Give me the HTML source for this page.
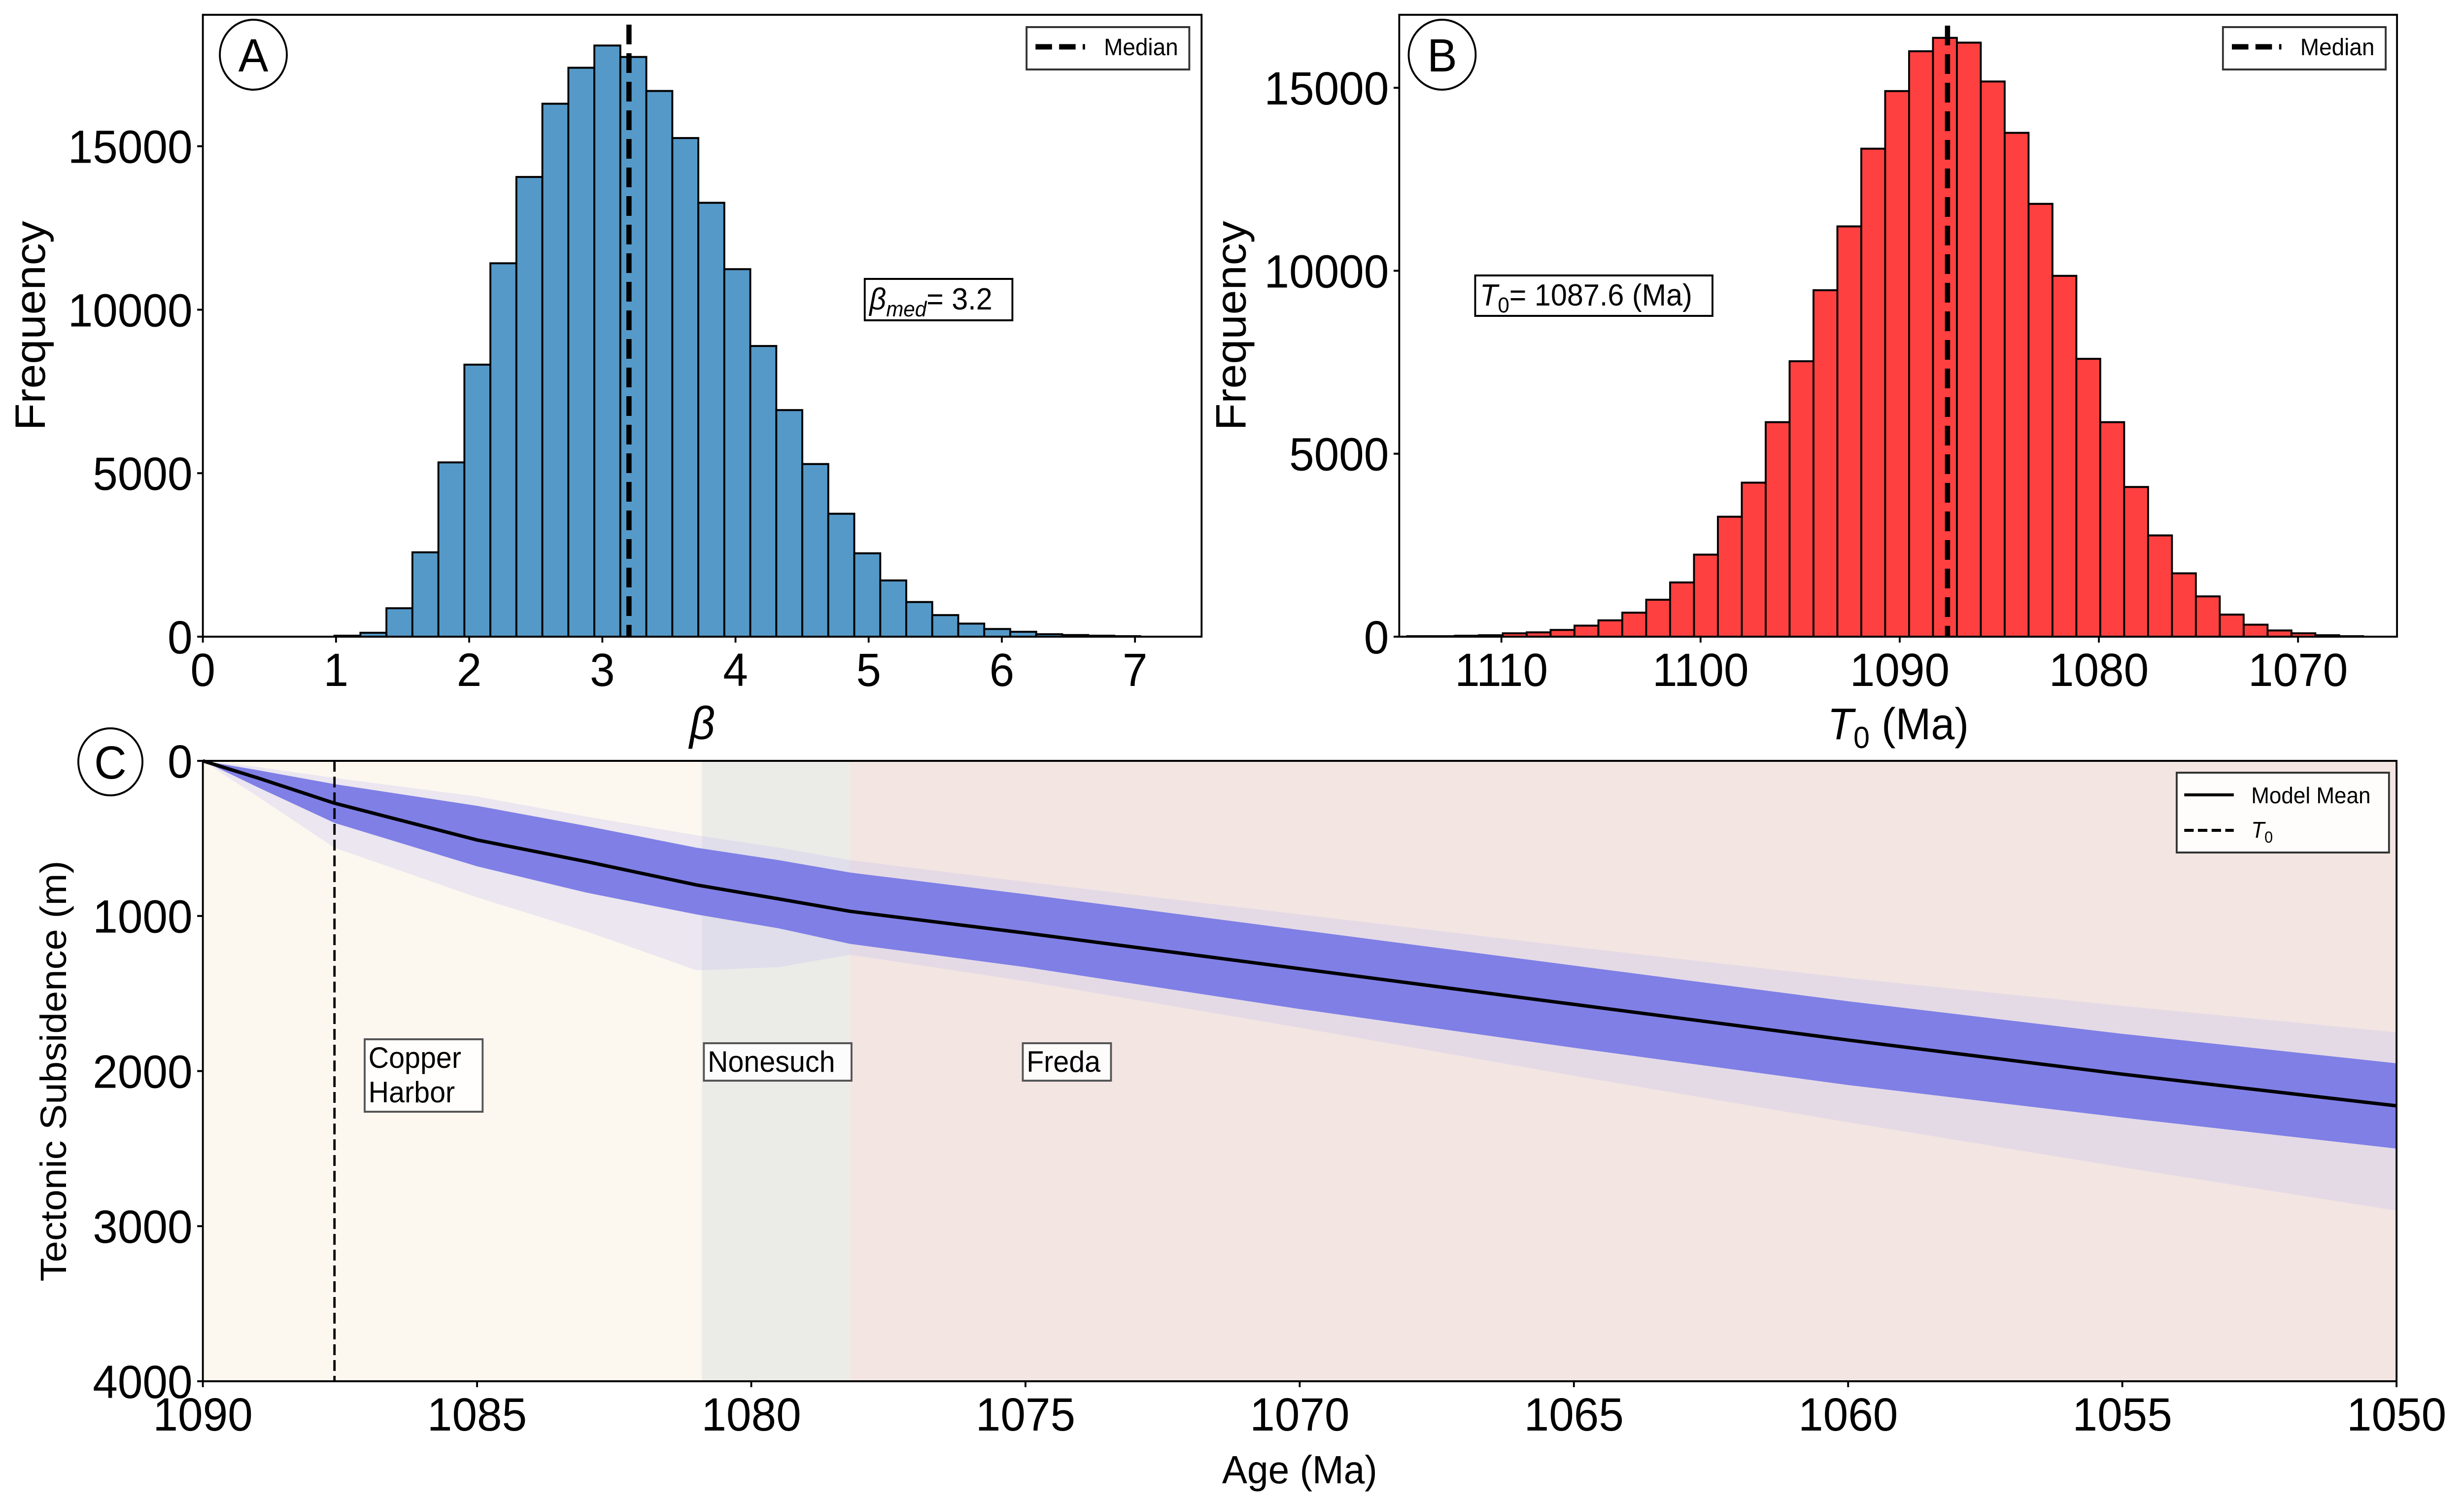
<!DOCTYPE html>
<html><head><meta charset="utf-8"><style>
html,body{margin:0;padding:0;background:#fff;overflow:hidden;width:100%;height:100%;}
svg{display:block;font-family:"Liberation Sans",sans-serif;width:100vw;height:100vh;}
</style></head><body>
<svg id="fig" xmlns="http://www.w3.org/2000/svg" viewBox="0 0 5223 3048" preserveAspectRatio="none"></svg>
<script>
// ---- Panel A data ----
const betaStart = 0.988;
const betaWidth = 0.1952;
const betaCounts = [30,120,870,2580,5330,8320,11420,14060,16300,17400,18080,17730,16690,15250,13270,11240,8890,6930,5280,3760,2550,1720,1060,660,400,235,150,75,50,30,15];
const betaTicks = [0,1,2,3,4,5,6,7];
const betaMedian = 3.2;
const freqTicksA = [0,5000,10000,15000];
// ---- Panel B data ----
const t0Start = 1114.73;
const t0Width = 1.2;
const t0Counts = [13,13,26,39,92,118,184,302,446,656,1010,1482,2242,3278,4209,5862,7527,9468,11212,13336,14910,15998,16365,16234,15172,13769,11828,9861,7593,5862,4091,2767,1731,1101,603,328,170,92,39,13];
const t0Ticks = [1110,1100,1090,1080,1070];
const t0Median = 1087.6;
const freqTicksB = [0,5000,10000,15000];
// ---- Panel C data ----
const ageTicks = [1090,1085,1080,1075,1070,1065,1060,1055,1050];
const depthTicks = [0,1000,2000,3000,4000];
const bandAges = [1090,1089,1087.6,1085,1083,1081,1079.5,1078.2,1075,1070,1065,1060,1055,1050];
const meanDepth = [0,110,273,510,650,800,890,970,1110,1340,1570,1800,2020,2224];
const denseUpper = [0,60,150,290,420,560,640,720,860,1090,1320,1550,1760,1950];
const denseLower = [0,170,400,680,850,990,1080,1180,1330,1600,1850,2090,2300,2500];
const faintUpper = [0,40,110,230,360,480,560,640,780,990,1200,1400,1580,1750];
const faintLower = [0,230,560,880,1100,1350,1330,1250,1420,1720,2030,2330,2620,2900];
const unitNames = ["Copper Harbor","Nonesuch","Freda"];
const unitBounds = [1090,1080.9,1078.2,1050];
const unitColors = ["#fcf7ef","#ebebe8","#f3e5e2"];
const t0Age = 1087.6;

const NS="http://www.w3.org/2000/svg";
const svg=document.getElementById('fig');
function mk(tag,attrs,parent){const e=document.createElementNS(NS,tag);for(const k in attrs)e.setAttribute(k,attrs[k]);(parent||svg).appendChild(e);return e;}
function txt(s,attrs,parent){const e=mk('text',attrs,parent);e.textContent=s;return e;}

// ===== Panel A =====
const A={l:430,r:2547,t:30,b:1292,x0:0,x1:7.5,y0:0,y1:19020};
const ax=v=>A.l+(v-A.x0)/(A.x1-A.x0)*(A.r-A.l);
const ay=v=>A.b-(v-A.y0)/(A.y1-A.y0)*(A.b-A.t);
const gA=mk('g',{});


betaCounts.forEach((c,i)=>{
  const x0=ax(betaStart+i*betaWidth),x1=ax(betaStart+(i+1)*betaWidth);
  const r=mk('rect',{x:x0,y:ay(c),width:x1-x0,height:ay(0)-ay(c),fill:'#5599c8',stroke:'#000','stroke-width':4},gA);
  
  
});
const mA=mk('line',{x1:ax(betaMedian),x2:ax(betaMedian),y1:A.t+20,y2:A.b,stroke:'#000','stroke-width':11,'stroke-dasharray':'40 18'},gA);


mk('rect',{x:A.l,y:A.t,width:A.r-A.l,height:A.b-A.t,fill:'none',stroke:'#000','stroke-width':4},gA);
betaTicks.forEach(v=>{
  mk('line',{x1:ax(v),x2:ax(v),y1:A.b,y2:A.b+12,stroke:'#000','stroke-width':4},gA);
  const t=txt(String(v),{x:ax(v),y:A.b+100,'font-size':95,'text-anchor':'middle'},gA);
  
  
});
freqTicksA.forEach(v=>{
  mk('line',{x1:A.l-12,x2:A.l,y1:ay(v),y2:ay(v),stroke:'#000','stroke-width':4},gA);
  const t=txt(String(v),{x:A.l-22,y:ay(v)+34,'font-size':95,'text-anchor':'end'},gA);
  
  
});
const xlA=txt('β',{x:(A.l+A.r)/2,y:1500,'font-size':95,'text-anchor':'middle','font-style':'italic'},gA);


const ylA=txt('Frequency',{x:0,y:0,'font-size':90,'text-anchor':'middle',transform:`translate(95,${(A.t+A.b)/2}) rotate(-90)`},gA);


mk('circle',{cx:537,cy:111,r:71,fill:'#fff',stroke:'#000','stroke-width':4},gA);
const la=txt('A',{x:537,y:145,'font-size':95,'text-anchor':'middle'},gA);


const lgA=mk('g',{},gA);


mk('rect',{x:2176,y:55,width:345,height:86,fill:'#fff',stroke:'#333','stroke-width':4},lgA);
mk('line',{x1:2195,x2:2300,y1:95,y2:95,stroke:'#000','stroke-width':11,'stroke-dasharray':'35 15'},lgA);
txt('Median',{x:2340,y:112,'font-size':48},lgA);
const anA=mk('g',{},gA);


mk('rect',{x:1833,y:566,width:313,height:84,fill:'#fff',stroke:'#000','stroke-width':4},anA);
const tA=txt('',{x:1843,y:628,'font-size':62},anA);
const s1=mk('tspan',{'font-style':'italic'},tA);s1.textContent='β';
const s2=mk('tspan',{'font-style':'italic','font-size':44,dy:14},tA);s2.textContent='med';
const s3=mk('tspan',{dy:-14},tA);s3.textContent='= 3.2';

// ===== Panel B =====
const B={l:2966,r:5081,t:30,b:1292,x0:1115.13,x1:1065.03,y0:0,y1:16995};
const bx=v=>B.l+(v-B.x0)/(B.x1-B.x0)*(B.r-B.l);
const by=v=>B.b-(v-B.y0)/(B.y1-B.y0)*(B.b-B.t);
const gB=mk('g',{});


t0Counts.forEach((c,i)=>{
  const x0=bx(t0Start-i*t0Width),x1=bx(t0Start-(i+1)*t0Width);
  const r=mk('rect',{x:x0,y:by(c),width:x1-x0,height:by(0)-by(c),fill:'#fe4040',stroke:'#000','stroke-width':4},gB);
  
  
});
const mB=mk('line',{x1:bx(t0Median),x2:bx(t0Median),y1:B.t+22,y2:B.b,stroke:'#000','stroke-width':11,'stroke-dasharray':'40 18'},gB);


mk('rect',{x:B.l,y:B.t,width:B.r-B.l,height:B.b-B.t,fill:'none',stroke:'#000','stroke-width':4},gB);
t0Ticks.forEach(v=>{
  mk('line',{x1:bx(v),x2:bx(v),y1:B.b,y2:B.b+12,stroke:'#000','stroke-width':4},gB);
  const t=txt(String(v),{x:bx(v),y:B.b+100,'font-size':95,'text-anchor':'middle'},gB);
  
  
});
freqTicksB.forEach(v=>{
  mk('line',{x1:B.l-12,x2:B.l,y1:by(v),y2:by(v),stroke:'#000','stroke-width':4},gB);
  const t=txt(String(v),{x:B.l-22,y:by(v)+34,'font-size':95,'text-anchor':'end'},gB);
  
  
});
const xlB=txt('',{x:(B.l+B.r)/2,y:1500,'font-size':90,'text-anchor':'middle'},gB);


{const a=mk('tspan',{'font-style':'italic'},xlB);a.textContent='T';const b=mk('tspan',{'font-size':62,dy:18},xlB);b.textContent='0';const c=mk('tspan',{dy:-18},xlB);c.textContent=' (Ma)';}
const ylB=txt('Frequency',{x:0,y:0,'font-size':90,'text-anchor':'middle',transform:`translate(2640,${(B.t+B.b)/2}) rotate(-90)`},gB);


mk('circle',{cx:3057,cy:111,r:71,fill:'#fff',stroke:'#000','stroke-width':4},gB);
const lb=txt('B',{x:3057,y:145,'font-size':95,'text-anchor':'middle'},gB);


const lgB=mk('g',{},gB);


mk('rect',{x:4712,y:55,width:345,height:86,fill:'#fff',stroke:'#333','stroke-width':4},lgB);
mk('line',{x1:4731,x2:4836,y1:95,y2:95,stroke:'#000','stroke-width':11,'stroke-dasharray':'35 15'},lgB);
txt('Median',{x:4876,y:112,'font-size':48},lgB);
const anB=mk('g',{},gB);


mk('rect',{x:3127,y:559,width:503,height:82,fill:'#fff',stroke:'#000','stroke-width':4},anB);
const tB=txt('',{x:3137,y:620,'font-size':62},anB);
{const a=mk('tspan',{'font-style':'italic'},tB);a.textContent='T';const b=mk('tspan',{'font-size':44,dy:14},tB);b.textContent='0';const c=mk('tspan',{dy:-14},tB);c.textContent='= 1087.6 (Ma)';}

// ===== Panel C =====
const C={l:430,r:5080,t:1544,b:2803,x0:1090,x1:1050,y0:0,y1:4000};
const cx=v=>C.l+(v-C.x0)/(C.x1-C.x0)*(C.r-C.l);
const cy=v=>C.t+(v-C.y0)/(C.y1-C.y0)*(C.b-C.t);
const gC=mk('g',{});


unitColors.forEach((col,i)=>{
  const r=mk('rect',{x:cx(unitBounds[i]),y:C.t,width:cx(unitBounds[i+1])-cx(unitBounds[i]),height:C.b-C.t,fill:col},gC);
  
  
});
function bandPath(up,lo){
  let d='';
  bandAges.forEach((a,i)=>{d+=(i?'L':'M')+cx(a)+','+cy(up[i]);});
  for(let i=bandAges.length-1;i>=0;i--)d+='L'+cx(bandAges[i])+','+cy(lo[i]);
  return d+'Z';
}
const fb=mk('path',{d:bandPath(faintUpper,faintLower),fill:'#c4c0f0','fill-opacity':0.3},gC);


const db=mk('path',{d:bandPath(denseUpper,denseLower),fill:'#7f7fe6'},gC);


const ml=mk('polyline',{points:bandAges.map((a,i)=>cx(a)+','+cy(meanDepth[i])).join(' '),fill:'none',stroke:'#000','stroke-width':7},gC);


const tl=mk('line',{x1:cx(t0Age),x2:cx(t0Age),y1:C.t,y2:C.b,stroke:'#000','stroke-width':5,'stroke-dasharray':'22 10'},gC);


mk('rect',{x:C.l,y:C.t,width:C.r-C.l,height:C.b-C.t,fill:'none',stroke:'#000','stroke-width':4},gC);
ageTicks.forEach(v=>{
  mk('line',{x1:cx(v),x2:cx(v),y1:C.b,y2:C.b+12,stroke:'#000','stroke-width':4},gC);
  const t=txt(String(v),{x:cx(v),y:C.b+100,'font-size':95,'text-anchor':'middle'},gC);
  
  
});
depthTicks.forEach(v=>{
  mk('line',{x1:C.l-12,x2:C.l,y1:cy(v),y2:cy(v),stroke:'#000','stroke-width':4},gC);
  const t=txt(String(v),{x:C.l-22,y:cy(v)+34,'font-size':95,'text-anchor':'end'},gC);
  
  
});
const xlC=txt('Age (Ma)',{x:(C.l+C.r)/2,y:3010,'font-size':80,'text-anchor':'middle'},gC);


const ylC=txt('Tectonic Subsidence (m)',{x:0,y:0,'font-size':78,'text-anchor':'middle',transform:`translate(140,${(C.t+C.b)/2}) rotate(-90)`},gC);


mk('circle',{cx:234,cy:1546,r:68,fill:'#fff',stroke:'#000','stroke-width':4},gC);
const lc=txt('C',{x:234,y:1580,'font-size':95,'text-anchor':'middle'},gC);


const ul=[[773,2109,250,147,['Copper','Harbor']],[1492,2117,313,76,['Nonesuch']],[2168,2117,187,76,['Freda']]];
ul.forEach((u,i)=>{
  const g=mk('g',{},gC);
  
  
  mk('rect',{x:u[0],y:u[1],width:u[2],height:u[3],fill:'#fff','fill-opacity':0.85,stroke:'#555','stroke-width':4},g);
  u[4].forEach((s,j)=>txt(s,{x:u[0]+8,y:u[1]+58+j*70,'font-size':60},g));
});
const lgC=mk('g',{},gC);


mk('rect',{x:4614,y:1568,width:450,height:162,fill:'#fff','fill-opacity':0.9,stroke:'#333','stroke-width':4},lgC);
mk('line',{x1:4630,x2:4735,y1:1613,y2:1613,stroke:'#000','stroke-width':6},lgC);
txt('Model Mean',{x:4772,y:1630,'font-size':46},lgC);
mk('line',{x1:4630,x2:4735,y1:1685,y2:1685,stroke:'#000','stroke-width':6,'stroke-dasharray':'20 9'},lgC);
const lt=txt('',{x:4772,y:1700,'font-size':46},lgC);
{const a=mk('tspan',{'font-style':'italic'},lt);a.textContent='T';const b=mk('tspan',{'font-size':32,dy:10},lt);b.textContent='0';}
</script>
</body></html>
